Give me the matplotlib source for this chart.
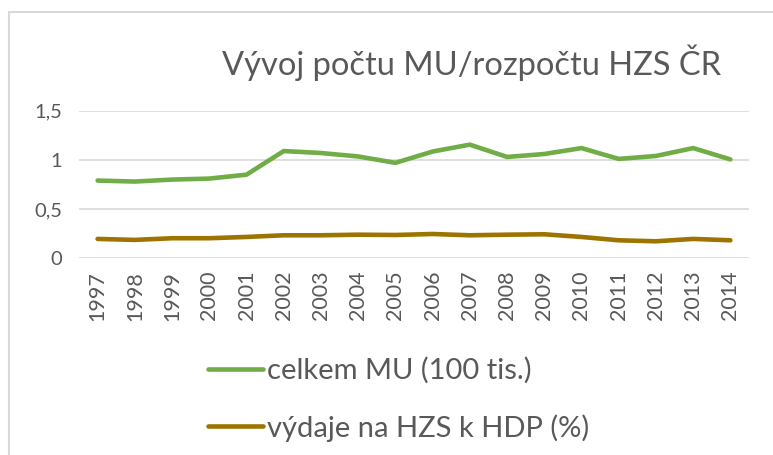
import matplotlib
matplotlib.use("Agg")
import matplotlib.pyplot as plt
from matplotlib.patches import Rectangle

years = ["1997", "1998", "1999", "2000", "2001", "2002", "2003", "2004", "2005",
         "2006", "2007", "2008", "2009", "2010", "2011", "2012", "2013", "2014"]
celkem_mu = [0.79, 0.78, 0.80, 0.81, 0.85, 1.09, 1.07, 1.035, 0.97,
             1.085, 1.155, 1.03, 1.06, 1.12, 1.01, 1.04, 1.12, 1.005]
vydaje_hzs = [0.197, 0.187, 0.204, 0.204, 0.217, 0.234, 0.234, 0.240, 0.237,
              0.247, 0.234, 0.240, 0.244, 0.217, 0.183, 0.173, 0.197, 0.183]
yticks = [0, 0.5, 1, 1.5]
ytick_labels = ["0", "0,5", "1", "1,5"]
series_labels = ["celkem MU (100 tis.)", "výdaje na HZS k HDP (%)"]
title = "Vývoj počtu MU/rozpočtu HZS ČR"

plt.rcParams['font.family'] = ['Lato', 'DejaVu Sans']
txt = "#595959"
W, H = 773, 455
fig = plt.figure(figsize=(W / 100, H / 100), dpi=100)

# chart frame
fig.patches.append(Rectangle((9 / W, -0.1), 1.2, 1.1 - 12 / H,
                             transform=fig.transFigure, fill=False,
                             edgecolor="#D9D9D9", linewidth=1.5))

ax = fig.add_axes([79 / W, 1 - 258.3 / H, (749 - 79) / W, (258.3 - 110.7) / H])
x = list(range(len(years)))
l1, = ax.plot(x, celkem_mu, color="#70AD47", linewidth=3.3, solid_capstyle="round")
l2, = ax.plot(x, vydaje_hzs, color="#9E7400", linewidth=3.3, solid_capstyle="round")
ax.set_xlim(-0.5, len(years) - 0.5)
ax.set_ylim(0, 1.5)
ax.set_yticks(yticks)
ax.set_yticklabels(ytick_labels)
ax.set_xticks(x)
ax.set_xticklabels(years, rotation=90)
ax.tick_params(axis="both", length=0, labelcolor=txt)
ax.tick_params(axis="y", pad=12, labelsize=14.5)
ax.tick_params(axis="x", pad=9, labelsize=15.5)
ax.grid(axis="y", color="#D9D9D9", linewidth=1.2)
ax.set_axisbelow(True)
for s in ax.spines.values():
    s.set_visible(False)

fig.text(472 / W, 1 - 63 / H, title, ha="center", va="center",
         fontsize=23.5, color=txt)

leg = fig.legend([l1, l2], series_labels, loc="upper left",
                 bbox_to_anchor=(208 / W, 1 - 357 / H), frameon=False,
                 fontsize=21, labelcolor=txt, handlelength=1.9,
                 handletextpad=0.12, labelspacing=1.03, borderpad=0,
                 borderaxespad=0)

fig.savefig("out.png", dpi=100)
